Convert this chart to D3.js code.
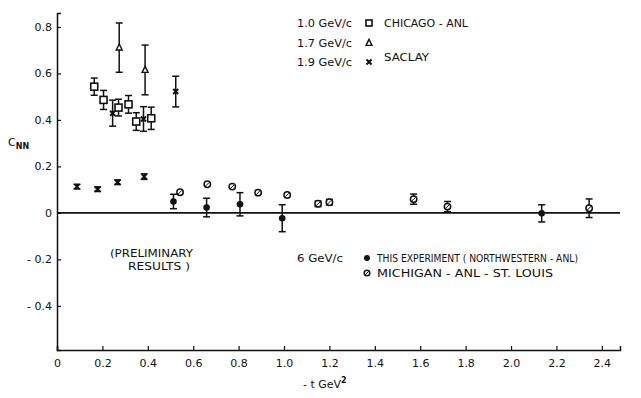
<!DOCTYPE html>
<html><head><meta charset="utf-8">
<script src="https://cdn.jsdelivr.net/npm/d3@7/dist/d3.min.js"></script>
<style>
body{margin:0;background:#fff;}
text{font-family:"DejaVu Sans",sans-serif;fill:#111;}
</style></head>
<body><svg id="chart" width="641" height="398"></svg>
<script>
// ---- data ----
const chicagoX   = [0.164, 0.205, 0.271, 0.315, 0.349, 0.415];
const chicagoY   = [0.543, 0.486, 0.453, 0.467, 0.393, 0.407];
const chicagoErr = [0.037, 0.041, 0.036, 0.038, 0.038, 0.048];

const saclay17X   = [0.274, 0.388];
const saclay17Y   = [0.711, 0.615];
const saclay17Err = [0.106, 0.107];

const saclay19X   = [0.088, 0.179, 0.245, 0.267, 0.381, 0.384, 0.523];
const saclay19Y   = [0.113, 0.102, 0.429, 0.132, 0.404, 0.156, 0.522];
const saclay19Err = [0.010, 0.010, 0.056, 0.010, 0.053, 0.012, 0.066];

const thisExpX   = [0.513, 0.659, 0.806, 0.992, 2.135];
const thisExpY   = [0.049, 0.023, 0.037, -0.023, -0.002];
const thisExpErr = [0.031, 0.040, 0.050, 0.058, 0.037];

const michiganX   = [0.542, 0.662, 0.772, 0.886, 1.014, 1.150, 1.200, 1.571, 1.720, 2.344];
const michiganY   = [0.089, 0.123, 0.113, 0.087, 0.077, 0.039, 0.046, 0.059, 0.027, 0.020];
const michiganErr = [0, 0, 0, 0, 0, 0.012, 0.012, 0.022, 0.022, 0.040];

const xTicks = [0, 0.2, 0.4, 0.6, 0.8, 1.0, 1.2, 1.4, 1.6, 1.8, 2.0, 2.2, 2.4];
const yTicks = [-0.4, -0.2, 0, 0.2, 0.4, 0.6, 0.8];

// ---- scales ----
const svg = d3.select("#chart");
const x = d3.scaleLinear().domain([0, 2.48]).range([57, 620]);
const y = d3.scaleLinear().domain([-0.59, 0.86]).range([350, 13]);

// axes
const yAxis = d3.axisLeft(y).tickValues(yTicks).tickSize(-4).tickPadding(5)
  .tickFormat(d => d === 0 ? "0" : (d < 0 ? "- " + Math.abs(d).toFixed(1) : d.toFixed(1)));
const gy = svg.append("g").attr("transform", `translate(${x(0)},0)`).call(yAxis);
const xAxis = d3.axisBottom(x).tickValues(xTicks).tickSize(-4).tickPadding(9)
  .tickFormat(d => d === 0 ? "0" : d.toFixed(1));
const gx = svg.append("g").attr("transform", `translate(0,${y.range()[0]})`).call(xAxis);
[gx, gy].forEach(g => {
  g.select(".domain").attr("stroke", "#111").attr("stroke-width", 1.5);
  g.selectAll(".tick line").attr("stroke", "#111").attr("stroke-width", 1.2);
  g.selectAll(".tick text").style("font-family", "DejaVu Sans").style("font-size", "11px").attr("fill", "#111");
});

// zero line
svg.append("line").attr("x1", x(0)).attr("x2", x(2.48)).attr("y1", y(0)).attr("y2", y(0))
  .attr("stroke", "#111").attr("stroke-width", 1.6);

// ---- error bars ----
function errBars(xs, ys, es) {
  const g = svg.append("g").attr("stroke", "#111").attr("stroke-width", 1.5);
  xs.forEach((xv, i) => {
    if (!es[i]) return;
    const cx = x(xv), t = y(ys[i] + es[i]), b = y(ys[i] - es[i]);
    g.append("line").attr("x1", cx).attr("x2", cx).attr("y1", t).attr("y2", b);
    g.append("line").attr("x1", cx - 3.5).attr("x2", cx + 3.5).attr("y1", t).attr("y2", t);
    g.append("line").attr("x1", cx - 3.5).attr("x2", cx + 3.5).attr("y1", b).attr("y2", b);
  });
}
errBars(chicagoX, chicagoY, chicagoErr);
errBars(saclay17X, saclay17Y, saclay17Err);
errBars(saclay19X, saclay19Y, saclay19Err);
errBars(thisExpX, thisExpY, thisExpErr);
errBars(michiganX, michiganY, michiganErr);

// ---- markers ----
function square(g, cx, cy, s) {
  g.append("rect").attr("x", cx - s / 2).attr("y", cy - s / 2).attr("width", s).attr("height", s)
    .attr("fill", "#fff").attr("stroke", "#111").attr("stroke-width", 1.6);
}
function triangle(g, cx, cy, s) {
  g.append("path").attr("d", `M${cx},${cy - s * 0.6}L${cx + s / 2},${cy + s * 0.4}L${cx - s / 2},${cy + s * 0.4}Z`)
    .attr("fill", "#fff").attr("stroke", "#111").attr("stroke-width", 1.4);
}
function cross(g, cx, cy, s) {
  g.append("path").attr("d", `M${cx - s / 2},${cy - s / 2}L${cx + s / 2},${cy + s / 2}M${cx + s / 2},${cy - s / 2}L${cx - s / 2},${cy + s / 2}`)
    .attr("stroke", "#111").attr("stroke-width", 2);
}
function dot(g, cx, cy, r) {
  g.append("circle").attr("cx", cx).attr("cy", cy).attr("r", r).attr("fill", "#111");
}
function ocirc(g, cx, cy, r) {
  g.append("circle").attr("cx", cx).attr("cy", cy).attr("r", r).attr("fill", "#fff")
    .attr("stroke", "#111").attr("stroke-width", 1.5);
  g.append("line").attr("x1", cx - r * 0.6).attr("y1", cy + r * 0.6).attr("x2", cx + r * 0.6).attr("y2", cy - r * 0.6)
    .attr("stroke", "#111").attr("stroke-width", 1);
}
const gm = svg.append("g");
chicagoX.forEach((v, i) => square(gm, x(v), y(chicagoY[i]), 7));
saclay17X.forEach((v, i) => triangle(gm, x(v), y(saclay17Y[i]), 6));
saclay19X.forEach((v, i) => cross(gm, x(v), y(saclay19Y[i]), 5));
thisExpX.forEach((v, i) => dot(gm, x(v), y(thisExpY[i]), 3.3));
michiganX.forEach((v, i) => ocirc(gm, x(v), y(michiganY[i]), 3.2));

// ---- legend / annotations ----
const lg = svg.append("g").style("font-size", "11px");
function label(t, xx, yy, len) {
  const el = lg.append("text").attr("x", xx).attr("y", yy).text(t);
  if (len) el.attr("textLength", len).attr("lengthAdjust", "spacingAndGlyphs");
  return el;
}
const rows = [["1.0 GeV/c", 23, square], ["1.7 GeV/c", 43, triangle], ["1.9 GeV/c", 62, cross]];
rows.forEach(([t, yy, fn]) => {
  label(t, 297, yy + 4, 55);
  fn(lg, 369, yy, fn === cross ? 5 : 6);
});
label("CHICAGO - ANL", 384, 27, 84);
label("SACLAY", 384, 61, 45);

label("(PRELIMINARY", 110, 257, 83);
label("RESULTS )", 128, 270, 62);
label("6 GeV/c", 297, 262, 46);
dot(lg, 367, 258, 3);
ocirc(lg, 367, 273, 2.8);
label("THIS EXPERIMENT ( NORTHWESTERN - ANL)", 377, 262, 201);
label("MICHIGAN - ANL - ST. LOUIS", 377, 277, 176);

// axis titles
const yl = svg.append("text").attr("x", 8).attr("y", 146).style("font-size", "11px");
yl.append("tspan").text("C");
yl.append("tspan").attr("dy", 3).style("font-size", "8px").style("font-weight", "bold").text("NN");
const xl = svg.append("text").attr("x", 303).attr("y", 388).style("font-size", "11px");
xl.append("tspan").text("- t  GeV");
xl.append("tspan").attr("dy", -5).style("font-size", "8px").style("font-weight", "bold").text("2");
</script></body></html>
